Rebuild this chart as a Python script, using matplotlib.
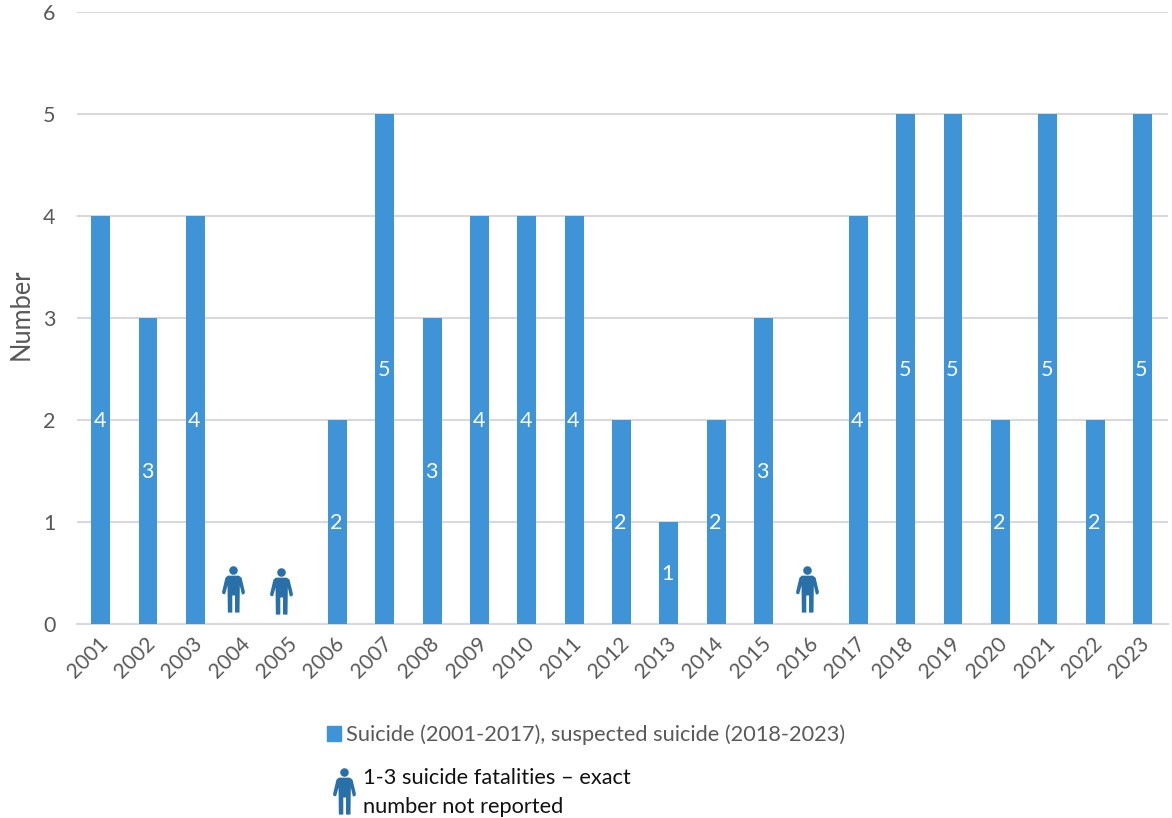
import numpy as np
import matplotlib
matplotlib.use('Agg')
import matplotlib.pyplot as plt
from matplotlib.patches import Patch
from matplotlib.path import Path
from matplotlib.transforms import Affine2D, ScaledTranslation

W, H = 1172, 818

years = [2001, 2002, 2003, 2004, 2005, 2006, 2007, 2008, 2009, 2010, 2011, 2012,
         2013, 2014, 2015, 2016, 2017, 2018, 2019, 2020, 2021, 2022, 2023]
# 2004, 2005 and 2016 have no exact count, they get a person icon instead of a bar
counts = [4, 3, 4, None, None, 2, 5, 3, 4, 4, 4, 2, 1, 2, 3, None, 4, 5, 5, 2, 5, 2, 5]
icon_years = [2003.79, 2004.81, 2015.91]
icon_levels = [0.34, 0.32, 0.34]

bar_label = 'Suicide (2001-2017), suspected suicide (2018-2023)'
icon_label = '1-3 suicide fatalities \u2013 exact\nnumber not reported'

BLUE = '#3E94D6'
ICON = '#296FA8'
GREY = '#595959'
GRID = '#D9D9D9'

plt.rcParams['font.family'] = ['Lato', 'DejaVu Sans']


def person_path():
    # outline in y-down drawing units, centred and flipped below
    body = [(227, 82), (259, 82), (267, 88), (277, 130), (275, 136), (268, 137),
            (262, 111), (261, 190), (248, 190), (248, 140), (240, 140), (240, 190),
            (227, 190), (226, 111), (219, 136), (212, 136), (210, 130), (220, 88),
            (227, 82)]
    body = np.array(body, dtype=float)
    body = (body - [243.5, 122.5]) * [1, -1] / 67.5
    codes = [Path.MOVETO] + [Path.LINETO] * (len(body) - 2) + [Path.CLOSEPOLY]
    head = Path.circle((0.0, (122.5 - 67) / 67.5), 12.5 / 67.5)
    return Path.make_compound_path(Path(body, codes), head)


person = person_path()

fig = plt.figure(figsize=(W / 100, H / 100), dpi=100)
ax = fig.add_axes([77 / W, 1 - 623.5 / H, (1168 - 77) / W, (623.5 - 12) / H])

x = np.array(years)
y = np.array([np.nan if c is None else c for c in counts], dtype=float)
ax.bar(x, y, width=0.4, color=BLUE, zorder=3)
for xi, c in zip(x, counts):
    if c is not None:
        ax.annotate(str(c), (xi, c / 2), xytext=(-0.7, -1.2), textcoords='offset points',
                    color='white', fontsize=15.5, ha='center', va='center', zorder=4)

ax.plot(icon_years, icon_levels, ls='none', marker=person, markersize=33.5,
        color=ICON, markeredgewidth=0, zorder=4)

ax.set_xlim(2000.5, 2023.54)
ax.set_ylim(0, 6)
ax.set_yticks(range(7))
ax.set_xticks(years)
ax.tick_params(axis='both', length=0, labelcolor=GREY)
ax.tick_params(axis='y', pad=15.5, labelsize=15.5)
ax.tick_params(axis='x', pad=7, labelsize=15)
plt.setp(ax.get_xticklabels(), rotation=45, ha='right', rotation_mode='anchor')
# nudge the slanted year labels a little to the left
nudge = ScaledTranslation(-3 / 100, 0, fig.dpi_scale_trans)
for t in ax.get_xticklabels():
    t.set_transform(t.get_transform() + nudge)
ax.grid(axis='y', color=GRID, lw=1.5, zorder=0)
ax.set_axisbelow(True)
for s in ax.spines.values():
    s.set_visible(False)
ax.spines['bottom'].set_visible(True)
ax.spines['bottom'].set_color(GRID)
ax.spines['bottom'].set_linewidth(1.5)
fig.text(21 / W, 1 - 314 / H, 'Number', rotation=90, color=GREY, fontsize=18.4, ha='center', va='center')

fig.legend(handles=[Patch(color=BLUE, label=bar_label)], loc='center left',
           bbox_to_anchor=(307 / W, 1 - 735 / H), frameon=False, fontsize=15.7,
           labelcolor=GREY, handlelength=0.64, handleheight=0.64, handletextpad=0.23)

# icon key sits under the legend, placed in figure pixels
px = Affine2D().scale(1 / W, 1 / H) + fig.transFigure
ax.plot([344], [H - 791], ls='none', marker=person, markersize=33.5, color=ICON,
        markeredgewidth=0, transform=px, clip_on=False)
fig.text(363 / W, 1 - 792.5 / H, icon_label, color='#111111', fontsize=15.7, ha='left', va='center',
         linespacing=1.58)

fig.savefig('out.png', dpi=100)
